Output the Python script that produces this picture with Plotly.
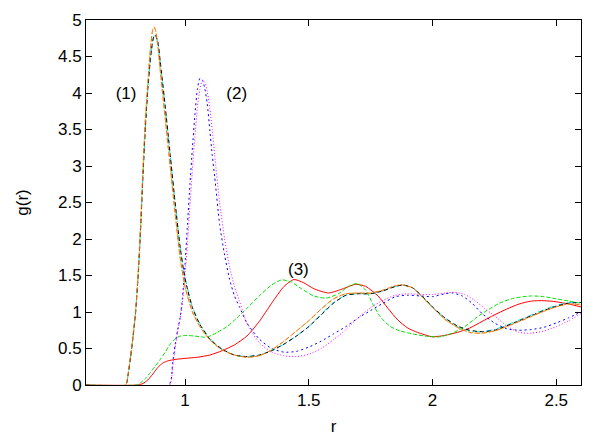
"""
Radial distribution functions g(r), gnuplot-style line plot.
"""

import plotly.graph_objects as go

# group (3): red solid and green dashed
r_red = [0.60, 0.81, 0.83, 0.85, 0.87, 0.89, 0.91, 0.93, 0.96, 1.00, 1.05, 1.10, 1.15, 1.20, 1.25,
         1.30, 1.35, 1.40, 1.44, 1.48, 1.52, 1.58, 1.64, 1.69, 1.73, 1.78, 1.82, 1.86, 1.90, 1.94,
         2.00, 2.05, 2.10, 2.15, 2.20, 2.25, 2.30, 2.35, 2.40, 2.45, 2.50, 2.55, 2.60]
g_red = [0.0, 0.0, 0.02, 0.07, 0.15, 0.24, 0.30, 0.33, 0.35, 0.365, 0.38, 0.41, 0.47, 0.55, 0.67,
         0.87, 1.12, 1.35, 1.445, 1.40, 1.32, 1.26, 1.32, 1.38, 1.35, 1.22, 1.05, 0.89, 0.78, 0.72,
         0.66, 0.68, 0.72, 0.78, 0.87, 0.96, 1.04, 1.11, 1.15, 1.155, 1.14, 1.11, 1.07]

r_green = [0.60, 0.80, 0.82, 0.84, 0.86, 0.88, 0.90, 0.92, 0.94, 0.96, 0.98, 1.00, 1.04, 1.08, 1.10,
           1.13, 1.17, 1.21, 1.25, 1.30, 1.35, 1.39, 1.43, 1.47, 1.52, 1.57, 1.62, 1.66, 1.695, 1.73,
           1.76, 1.79, 1.83, 1.87, 1.92, 1.97, 2.03, 2.08, 2.13, 2.18, 2.22, 2.27, 2.33, 2.40, 2.45,
           2.50, 2.55, 2.60]
g_green = [0.0, 0.0, 0.03, 0.09, 0.17, 0.26, 0.35, 0.45, 0.56, 0.63, 0.67, 0.68, 0.67, 0.655, 0.67,
           0.72, 0.80, 0.92, 1.05, 1.22, 1.37, 1.44, 1.41, 1.32, 1.22, 1.19, 1.25, 1.35, 1.39, 1.30,
           1.10, 0.93, 0.80, 0.74, 0.70, 0.67, 0.66, 0.71, 0.80, 0.93, 1.02, 1.12, 1.19, 1.22, 1.21,
           1.18, 1.15, 1.12]

# group (2): blue dashed and magenta dotted
r_blue = [0.60, 0.935, 0.95, 0.96, 0.97, 0.98, 0.99, 1.00, 1.01, 1.02, 1.03, 1.04, 1.05, 1.06, 1.07,
          1.08, 1.09, 1.10, 1.11, 1.12, 1.14, 1.16, 1.18, 1.20, 1.22, 1.25, 1.30, 1.35, 1.40, 1.45,
          1.50, 1.55, 1.60, 1.65, 1.70, 1.75, 1.80, 1.85, 1.90, 1.95, 2.00, 2.05, 2.08, 2.12, 2.16,
          2.20, 2.25, 2.30, 2.35, 2.40, 2.45, 2.50, 2.55, 2.60]
g_blue = [0.0, 0.0, 0.3, 0.55, 0.75, 0.92, 1.2, 1.65, 2.2, 2.75, 3.25, 3.7, 4.05, 4.2, 4.18,
          4.06, 3.85, 3.5, 3.15, 2.85, 2.2, 1.78, 1.45, 1.22, 1.07, 0.85, 0.63, 0.50, 0.45, 0.46,
          0.52, 0.60, 0.70, 0.80, 0.92, 1.02, 1.12, 1.21, 1.23, 1.22, 1.21, 1.25, 1.26, 1.22, 1.12,
          0.98, 0.85, 0.77, 0.75, 0.76, 0.79, 0.85, 0.92, 1.0]

r_magenta = [0.60, 0.937, 0.95, 0.96, 0.97, 0.98, 0.99, 1.00, 1.01, 1.02, 1.03, 1.04, 1.05, 1.06, 1.07,
             1.08, 1.09, 1.10, 1.11, 1.12, 1.14, 1.16, 1.18, 1.20, 1.22, 1.25, 1.30, 1.35, 1.40, 1.45,
             1.50, 1.55, 1.60, 1.65, 1.70, 1.75, 1.80, 1.85, 1.90, 1.95, 2.00, 2.05, 2.09, 2.13, 2.17,
             2.21, 2.25, 2.30, 2.35, 2.40, 2.45, 2.50, 2.55, 2.60]
g_magenta = [0.0, 0.0, 0.25, 0.5, 0.72, 0.9, 1.15, 1.5, 1.95, 2.45, 2.95, 3.4, 3.8, 4.05, 4.17,
             4.15, 4.02, 3.8, 3.5, 3.15, 2.5, 2.0, 1.62, 1.35, 1.15, 0.85, 0.58, 0.45, 0.40, 0.39,
             0.42, 0.50, 0.62, 0.76, 0.92, 1.06, 1.16, 1.23, 1.25, 1.24, 1.24, 1.26, 1.27, 1.24, 1.16,
             1.05, 0.95, 0.81, 0.72, 0.71, 0.74, 0.80, 0.88, 0.98]

# group (1): cyan, yellow, black, orange
r_first = [0.60, 0.76, 0.77, 0.78, 0.79, 0.80, 0.81, 0.82, 0.83, 0.84, 0.85, 0.86, 0.87, 0.875, 0.88,
           0.89, 0.90, 0.92, 0.94, 0.96, 0.98, 1.00, 1.03, 1.06, 1.10, 1.15, 1.20, 1.25, 1.30, 1.35,
           1.40, 1.45, 1.50, 1.55, 1.60, 1.65, 1.70, 1.75, 1.80, 1.85, 1.88, 1.92, 1.96, 2.00, 2.05,
           2.10, 2.15, 2.20, 2.25, 2.30, 2.35, 2.40, 2.45, 2.50, 2.55, 2.60]
g_cyan = [0.0, 0.0, 0.14, 0.38, 0.65, 0.97, 1.45, 2.08, 2.85, 3.52, 4.05, 4.45, 4.72, 4.78, 4.8,
          4.7, 4.42, 3.8, 3.15, 2.5, 1.9, 1.47, 1.07, 0.84, 0.64, 0.49, 0.41, 0.39, 0.41, 0.47,
          0.56, 0.67, 0.80, 0.97, 1.13, 1.23, 1.25, 1.25, 1.29, 1.35, 1.37, 1.33, 1.21, 1.07, 0.92,
          0.80, 0.74, 0.73, 0.76, 0.82, 0.89, 0.96, 1.03, 1.09, 1.13, 1.13]
g_black = [0.0, 0.0, 0.14, 0.38, 0.66, 0.98, 1.46, 2.1, 2.86, 3.54, 4.06, 4.46, 4.72, 4.78, 4.79,
           4.7, 4.43, 3.82, 3.16, 2.5, 1.9, 1.46, 1.06, 0.83, 0.63, 0.49, 0.41, 0.39, 0.41, 0.47,
           0.56, 0.67, 0.80, 0.96, 1.12, 1.23, 1.25, 1.25, 1.29, 1.35, 1.37, 1.33, 1.21, 1.07, 0.92,
           0.81, 0.75, 0.73, 0.75, 0.81, 0.88, 0.95, 1.02, 1.08, 1.12, 1.13]
g_orange = [0.0, 0.0, 0.15, 0.40, 0.68, 1.0, 1.5, 2.15, 2.95, 3.65, 4.15, 4.6, 4.87, 4.9, 4.87,
            4.65, 4.3, 3.65, 3.0, 2.35, 1.75, 1.35, 1.0, 0.80, 0.62, 0.48, 0.41, 0.38, 0.40, 0.48,
            0.60, 0.74, 0.88, 1.04, 1.18, 1.25, 1.26, 1.26, 1.30, 1.36, 1.37, 1.33, 1.20, 1.06, 0.90,
            0.79, 0.72, 0.71, 0.74, 0.80, 0.87, 0.94, 1.01, 1.07, 1.11, 1.10]
g_yellow = [0.0, 0.0, 0.15, 0.40, 0.68, 1.0, 1.5, 2.16, 2.96, 3.66, 4.16, 4.61, 4.88, 4.91, 4.88,
            4.66, 4.3, 3.66, 3.0, 2.36, 1.76, 1.36, 1.0, 0.80, 0.62, 0.48, 0.41, 0.38, 0.40, 0.48,
            0.60, 0.74, 0.88, 1.04, 1.18, 1.25, 1.26, 1.26, 1.30, 1.36, 1.37, 1.33, 1.20, 1.06, 0.90,
            0.79, 0.72, 0.71, 0.74, 0.80, 0.87, 0.94, 1.01, 1.07, 1.11, 1.10]

labels = ['(1)', '(2)', '(3)']
label_r = [0.762, 1.209, 1.458]
label_g = [3.97, 3.97, 1.57]

curves = [
    (r_red, g_red, '#ff0000', 'solid'),
    (r_green, g_green, '#00e000', '4px,2px'),
    (r_blue, g_blue, '#0000ff', '2px,3px'),
    (r_magenta, g_magenta, '#ff00ff', '1px,2px'),
    (r_first, g_cyan, '#00e0e0', '6px,2px,1px,2px'),
    (r_first, g_yellow, '#e8d000', '3px,2px,1px,2px'),
    (r_first, g_black, '#000000', '4px,3px'),
    (r_first, g_orange, '#ff6a1a', '5px,2px'),
]

fig = go.Figure()

for r, g, color, dash in curves:
    fig.add_trace(go.Scatter(
        x=r,
        y=g,
        mode='lines',
        line=dict(color=color, width=1, dash=dash, shape='spline', smoothing=0.6),
        showlegend=False
    ))

fig.add_trace(go.Scatter(
    x=label_r,
    y=label_g,
    mode='text',
    text=labels,
    textfont=dict(size=17, color='#000000'),
    showlegend=False
))

axis_style = dict(
    showgrid=False,
    zeroline=False,
    showline=True,
    linecolor='#000000',
    linewidth=1,
    mirror='allticks',
    ticks='inside',
    ticklen=6,
    tickcolor='#000000',
    tickfont=dict(size=17, color='#000000'),
    automargin=False,
)

fig.update_xaxes(
    range=[0.6, 2.6],
    tickvals=[1, 1.5, 2, 2.5],
    ticktext=['1', '1.5', '2', '2.5'],
    title=dict(text='r', font=dict(size=17, color='#000000'), standoff=11),
    **axis_style
)
fig.update_yaxes(
    range=[0, 5],
    tickvals=[0, 0.5, 1, 1.5, 2, 2.5, 3, 3.5, 4, 4.5, 5],
    ticktext=['0', '0.5', '1', '1.5', '2', '2.5', '3', '3.5', '4', '4.5', '5'],
    title=dict(text='g(r)', font=dict(size=17, color='#000000'), standoff=25),
    **axis_style
)

# page body adds an 8px margin, so the figure is 8px smaller on each axis
fig.update_layout(
    width=602,
    height=428,
    margin=dict(l=78, r=29, t=12, b=51),
    paper_bgcolor='#ffffff',
    plot_bgcolor='#ffffff',
    font=dict(family='Liberation Sans, Arial, sans-serif', size=17, color='#000000'),
    showlegend=False
)

fig.write_html("out.html")
